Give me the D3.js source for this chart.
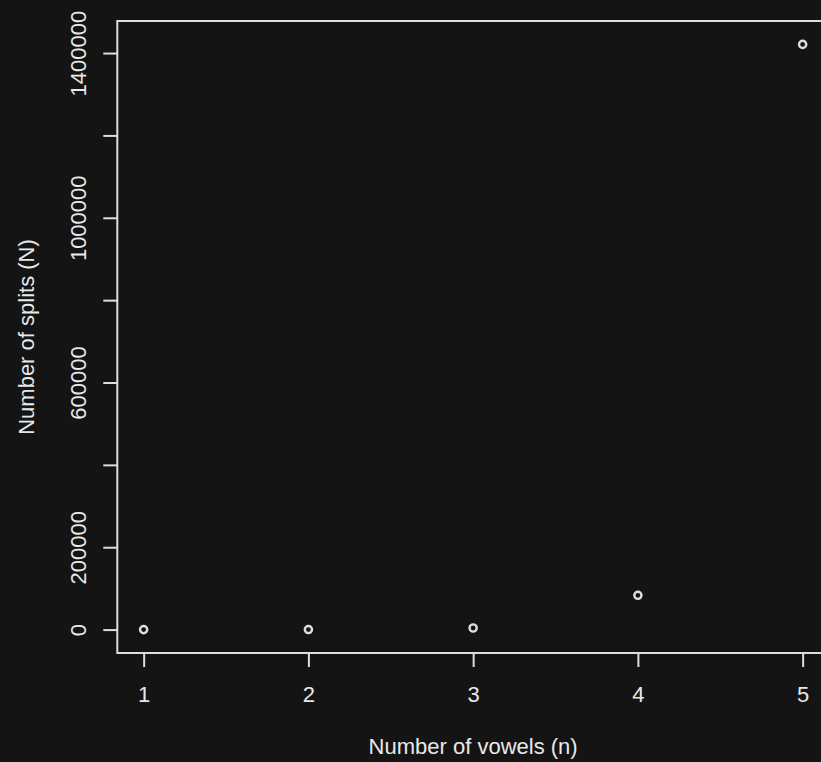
<!DOCTYPE html>
<html>
<head>
<meta charset="utf-8">
<script src="https://cdn.jsdelivr.net/npm/d3@7"></script>
<style>
	html, body { margin: 0; padding: 0; background: #141414; }
	svg { display: block; }
	text { font-family: "Liberation Sans", Arial, sans-serif; fill: #e8e8e8; }
</style>
</head>
<body>
<div id="chart"></div>
<script>
// values
const vowels = [1, 2, 3, 4, 5];
const splits = [1, 60, 3900, 83300, 1421000];

const xTicks = [1, 2, 3, 4, 5];
const yTicks = [0, 200000, 400000, 600000, 800000, 1000000, 1200000, 1400000];
const yLabelled = [0, 200000, 600000, 1000000, 1400000];

const xTitle = 'Number of vowels (n)';
const yTitle = 'Number of splits (N)';

const width = 821;
const height = 762;
const plot = {left: 117.3, right: 829, top: 21, bottom: 653};
const ink = '#dedede';
const fontSize = 22;

// R style 4% padding of the data range
function padded(values) {
	const [lo, hi] = d3.extent(values);
	const pad = (hi - lo) * 0.04;
	return [lo - pad, hi + pad];
}

const x = d3.scaleLinear()
	.domain(padded(vowels))
	.range([plot.left, plot.right]);

const y = d3.scaleLinear()
	.domain(padded(splits))
	.range([plot.bottom, plot.top]);

const svg = d3.select('#chart')
	.append('svg')
	.attr('width', width)
	.attr('height', height);

svg.append('rect')
	.attr('width', width)
	.attr('height', height)
	.attr('fill', '#141414');

// x axis
svg.append('g')
	.attr('transform', `translate(0,${plot.bottom})`)
	.call(d3.axisBottom(x).tickValues(xTicks).tickSize(14).tickFormat(d3.format('d')))
	.call(g => g.select('.domain').remove())
	.call(g => g.selectAll('.tick line').attr('stroke', ink).attr('stroke-width', 2))
	.call(g => g.selectAll('.tick text')
		.attr('y', 48.5)
		.attr('dy', null)
		.attr('fill', '#e8e8e8')
		.style('font-size', fontSize + 'px'));

// y axis, labels rotated like R's default
svg.append('g')
	.attr('transform', `translate(${plot.left},0)`)
	.call(d3.axisLeft(y).tickValues(yTicks).tickSize(14)
		.tickFormat(d => yLabelled.includes(d) ? String(d) : ''))
	.call(g => g.select('.domain').remove())
	.call(g => g.selectAll('.tick line').attr('stroke', ink).attr('stroke-width', 2))
	.call(g => g.selectAll('.tick text')
		.attr('x', null)
		.attr('dy', null)
		.attr('text-anchor', 'middle')
		.attr('transform', `translate(${86 - plot.left},0) rotate(-90)`)
		.attr('fill', '#e8e8e8')
		.style('font-size', fontSize + 'px'));

// box
svg.append('rect')
	.attr('x', plot.left)
	.attr('y', plot.top)
	.attr('width', plot.right - plot.left)
	.attr('height', plot.bottom - plot.top)
	.attr('fill', 'none')
	.attr('stroke', ink)
	.attr('stroke-width', 2);

// points
svg.append('g')
	.selectAll('circle')
	.data(vowels.map((v, i) => ({n: v, N: splits[i]})))
	.join('circle')
	.attr('cx', d => x(d.n))
	.attr('cy', d => y(d.N))
	.attr('r', 3.6)
	.attr('fill', 'none')
	.attr('stroke', ink)
	.attr('stroke-width', 2.4);

// titles
svg.append('text')
	.attr('x', (plot.left + plot.right) / 2)
	.attr('y', 754)
	.attr('text-anchor', 'middle')
	.style('font-size', fontSize + 'px')
	.text(xTitle);

svg.append('text')
	.attr('transform', `translate(34,${(plot.top + plot.bottom) / 2}) rotate(-90)`)
	.attr('text-anchor', 'middle')
	.style('font-size', fontSize + 'px')
	.text(yTitle);
</script>
</body>
</html>
